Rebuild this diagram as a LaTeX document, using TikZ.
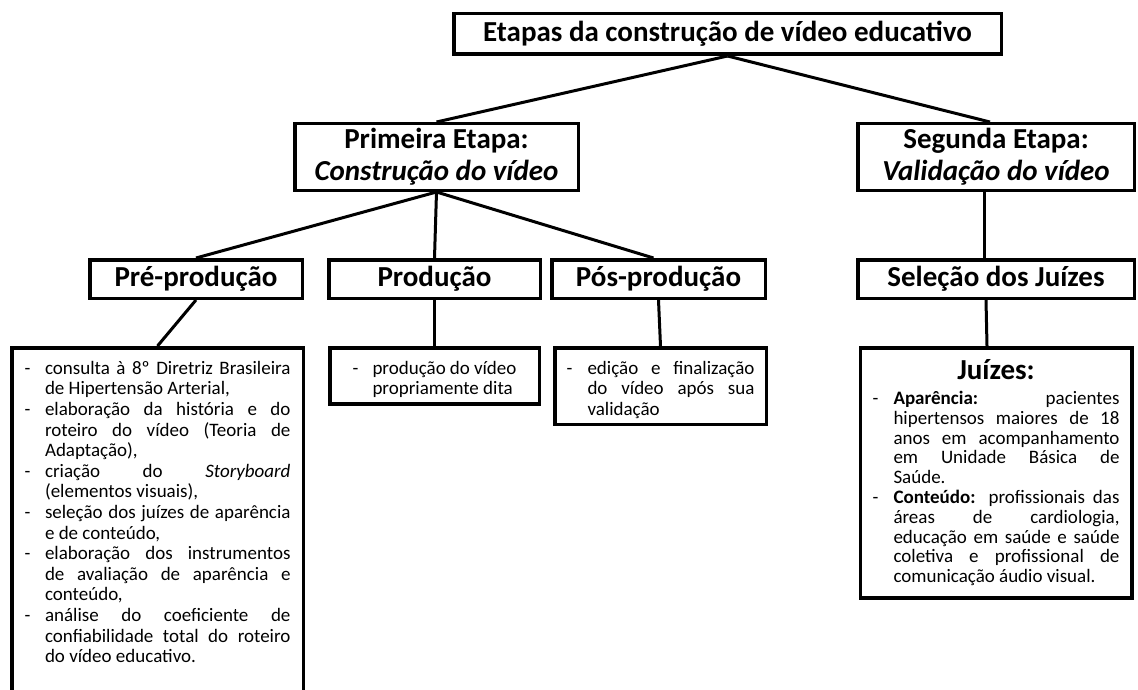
\documentclass[tikz,border=0pt]{standalone}
\usepackage{fontspec}
\setmainfont{Carlito}
\usepackage{tikz}
\usetikzlibrary{positioning}

\hyphenpenalty=10000
\tolerance=10000

\newenvironment{dashlist}[1]{%
  \setlength{\linewidth}{\hsize}%
  \begin{list}{-}{\setlength{\leftmargin}{#1}\setlength{\labelwidth}{#1}\setlength{\labelsep}{0pt}%
    \setlength{\itemsep}{0pt}\setlength{\parsep}{0pt}\setlength{\topsep}{0pt}\setlength{\partopsep}{0pt}%
    \renewcommand{\makelabel}[1]{##1\hfil}}}%
  {\end{list}}

\begin{document}
\begin{tikzpicture}[x=1pt, y=-1pt, node distance=66pt, thick]
    % Styles
    \tikzstyle{stage} = [draw, rectangle, line width=3.5pt, font=\fontsize{29}{32}\selectfont\bfseries, align=center, minimum height=38.5pt]
    \tikzstyle{textbox} = [draw, rectangle, line width=3.5pt, font=\fontsize{19}{20.6}\selectfont, align=justify, inner ysep=6pt]
    \tikzstyle{link} = [line width=3pt]

    \useasboundingbox (0,0) rectangle (1138,690);
    \clip (0,0) rectangle (1138,690);

    % Nodes
    \node [stage, minimum width=547.5pt, minimum height=40.5pt] (Root) at (727.5,34) {Etapas da construção de vídeo educativo};
    \node [stage, minimum width=283.5pt, minimum height=66.5pt, below=of Root, xshift=-291pt] (First) {Primeira Etapa:\\\textit{Construção do vídeo}};
    \node [stage, minimum width=276.5pt, minimum height=66.5pt, below=of Root, xshift=268.5pt] (Second) {Segunda Etapa:\\\textit{Validação do vídeo}};

    \node [stage, minimum width=212.5pt, below=of First, xshift=-240.5pt] (Pre) {Pré-produção};
    \node [stage, minimum width=211.5pt, below=of First, xshift=-2pt] (Prod) {Produção};
    \node [stage, minimum width=213.5pt, below=of First, xshift=222pt] (Pos) {Pós-produção};
    \node [stage, minimum width=276.5pt, below=of Second] (Sel) {Seleção dos Juízes};

    % Text boxes
    \node [textbox, text width=266pt, inner xsep=12.75pt, below=46pt of Pre, xshift=-38.5pt] (PreText) {%
      \begin{dashlist}{20.5pt}
      \item consulta à 8º Diretriz Brasileira\linebreak de Hipertensão Arterial,
      \item elaboração da história e do\linebreak roteiro do vídeo (Teoria de\linebreak Adaptação),
      \item criação do \textit{Storyboard}\linebreak (elementos visuais),
      \item seleção dos juízes de aparência\linebreak e de conteúdo,
      \item elaboração dos instrumentos\linebreak de avaliação de aparência e\linebreak conteúdo,
      \item análise do coeficiente de\linebreak confiabilidade total do roteiro\linebreak do vídeo educativo.
      \end{dashlist}\par\leavevmode\rule{0pt}{60pt}};
    \node [textbox, text width=164pt, inner xsep=22.75pt, below=46pt of Prod] (ProdText) {%
      \begin{dashlist}{20pt}\raggedright
      \item produção do vídeo\\ propriamente dita
      \end{dashlist}};
    \node [textbox, text width=188pt, inner xsep=11.75pt, below=46pt of Pos, xshift=2pt] (PosText) {%
      \begin{dashlist}{21pt}
      \item edição e finalização\linebreak do vídeo após sua\linebreak validação
      \end{dashlist}};
    \node [textbox, font=\fontsize{19}{19.8}\selectfont, text width=247pt, inner xsep=12.25pt, inner ysep=12pt, below=46pt of Sel] (Juizes) {%
      {\centering\fontsize{29}{30}\selectfont\bfseries Juízes:\par}\vspace{5pt}
      \begin{dashlist}{21pt}
      \item \textbf{Aparência:} pacientes\linebreak hipertensos maiores de 18\linebreak anos em acompanhamento\linebreak em Unidade Básica de\linebreak Saúde.
      \item \textbf{Conteúdo:} profissionais das\linebreak áreas de cardiologia,\linebreak educação em saúde e saúde\linebreak coletiva e profissional de\linebreak comunicação áudio visual.
      \end{dashlist}};

    % Connections
    \draw [link] (Root.south) -- (First.north);
    \draw [link] (Root.south) -- ([xshift=-6pt]Second.north);
    \draw [link] (First.south) -- (Pre.north);
    \draw [link] (First.south) -- (Prod.north);
    \draw [link] (First.south) -- ([xshift=-5pt]Pos.north);
    \draw [link] ([xshift=-12pt]Second.south) -- ([xshift=-12pt]Sel.north);
    \draw [link] (Pre.south) -- (PreText.north);
    \draw [link] (Prod.south) -- (ProdText.north);
    \draw [link] (Pos.south) -- (PosText.north);
    \draw [link] ([xshift=-10pt]Sel.south) -- ([xshift=-9pt]Juizes.north);
\end{tikzpicture}
\end{document}
